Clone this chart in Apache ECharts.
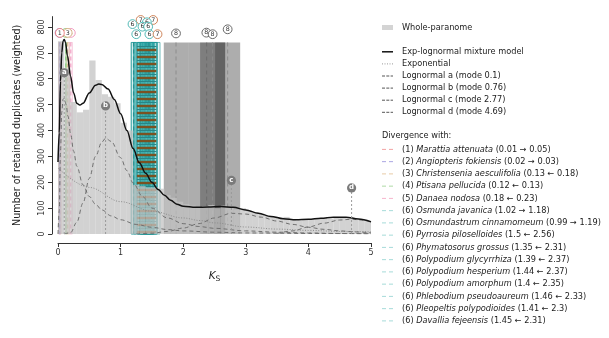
<!DOCTYPE html>
<html>
<head>
<meta charset="utf-8">
<script src="https://cdn.jsdelivr.net/npm/echarts@6/dist/echarts.min.js"></script>
<style>
  html, body { margin: 0; padding: 0; background: #fff; }
  #chart { width: 609px; height: 338px; }
</style>
</head>
<body>
<div id="chart"></div>
<script>
// ---------------- data ----------------
const ksTicks = [0, 1, 2, 3, 4, 5];
const countTicks = [0, 100, 200, 300, 400, 500, 600, 700, 800];

// whole-paranome Ks histogram, bins of 0.1 starting at 0
const binWidth = 0.1;
const paranomeCounts = [745, 640, 510, 470, 480, 670, 595, 540, 530, 505,
                        430, 400, 190, 185, 180, 180, 175, 150, 140, 125,
                        115, 110, 105, 108, 112, 100, 110, 104, 95, 100,
                        90, 84, 78, 70, 66, 60, 66, 55, 52, 56,
                        58, 60, 62, 58, 64, 62, 60, 56, 55, 52];

// exp-lognormal mixture model and its components
const mixtureKs = [0, 0.02, 0.04, 0.06, 0.08, 0.1, 0.12, 0.15, 0.2, 0.25, 0.3, 0.35, 0.4, 0.5, 0.6,
                   0.65, 0.7, 0.8, 0.9, 1.0, 1.1, 1.2, 1.3, 1.4, 1.5, 1.6, 1.7, 1.8, 1.9, 2.0,
                   2.2, 2.4, 2.6, 2.8, 3.0, 3.2, 3.4, 3.6, 3.8, 4.0, 4.2, 4.4, 4.6, 4.8, 5.0];
const mixtureVals = [278, 390, 590, 700, 745, 752, 740, 690, 610, 545, 505, 498, 505, 545, 575,
                     580, 578, 560, 520, 465, 400, 330, 275, 235, 200, 172, 150, 130, 115, 107,
                     103, 104, 106, 103, 93, 80, 68, 59, 55, 57, 61, 65, 65, 58, 47];

const expKs = [0, 0.5, 1, 1.5, 2, 2.27, 2.5, 3, 3.5, 4, 4.5, 5];
const expVals = [255, 180, 125, 88, 62, 52, 43, 27, 19, 14, 10, 8];

const lnAKs = [0, 0.02, 0.04, 0.06, 0.08, 0.1, 0.13, 0.16, 0.2, 0.25, 0.3, 0.4, 0.5, 0.6, 0.7,
               0.85, 1.0, 1.25, 1.5, 1.75, 2.0, 2.5, 3, 4, 5];
const lnAVals = [0, 90, 320, 470, 520, 525, 500, 455, 390, 320, 262, 190, 145, 115, 93,
                 70, 55, 37, 26, 17, 12, 7, 4, 2, 1];

const lnBKs = [0.1, 0.2, 0.3, 0.4, 0.5, 0.6, 0.7, 0.76, 0.85, 1.0, 1.1, 1.2, 1.35, 1.5, 1.75,
               2.0, 2.25, 2.5, 3, 3.5, 4, 4.5, 5];
const lnBVals = [0, 5, 45, 120, 215, 300, 355, 370, 358, 295, 245, 197, 145, 100, 62,
                 40, 29, 22, 12, 7, 4, 2, 1];

const lnCKs = [1.25, 1.5, 1.75, 2.0, 2.25, 2.5, 2.77, 3.0, 3.25, 3.5, 3.75, 4.0, 4.25, 4.5, 4.75, 5];
const lnCVals = [0, 3, 10, 23, 40, 62, 80, 77, 65, 50, 37, 26, 18, 12, 8, 5];

const lnDKs = [3.5, 3.75, 4.0, 4.25, 4.5, 4.69, 4.85, 5.0];
const lnDVals = [2, 12, 27, 42, 54, 57, 54, 47];

// component modes and the height of their tag
const modeNames = ['a', 'b', 'c', 'd'];
const modeKs = [0.1, 0.76, 2.77, 4.69];
const modeTagCounts = [623, 495, 207, 178];

// divergence legend entries
const divGroups = [1, 2, 3, 4, 5, 6, 6, 6, 6, 6, 6, 6, 6, 6, 6];
const divSpecies = ['Marattia attenuata', 'Angiopteris fokiensis', 'Christensenia aesculifolia',
  'Ptisana pellucida', 'Danaea nodosa', 'Osmunda javanica', 'Osmundastrum cinnamomeum',
  'Pyrrosia piloselloides', 'Phymatosorus grossus', 'Polypodium glycyrrhiza',
  'Polypodium hesperium', 'Polypodium amorphum', 'Phlebodium pseudoaureum',
  'Pleopeltis polypodioides', 'Davallia fejeensis'];
const divLeftKs = [0.01, 0.02, 0.13, 0.12, 0.18, 1.02, 0.99, 1.5, 1.35, 1.39, 1.44, 1.4, 1.46, 1.41, 1.45];
const divRightKs = [0.05, 0.03, 0.18, 0.13, 0.23, 1.18, 1.19, 2.56, 2.31, 2.37, 2.37, 2.35, 2.33, 2.3, 2.31];
const divArrows = ['→', '→', '←', '←', '←', '→', '→', '←', '←', '←', '←', '←', '←', '←', '←'];

// divergence ranges drawn as bands
const bandGroups = [1, 2, 3, 4, 5, 6, 6, 6, 6, 6, 6, 6, 6, 6, 6, 7, 8, 8, 8, 8];
const bandLo = [0.01, 0.02, 0.13, 0.12, 0.18, 1.17, 1.17, 1.38, 1.22, 1.26, 1.31, 1.27, 1.33, 1.28, 1.32,
                1.26, 1.69, 2.08, 2.27, 2.51];
const bandHi = [0.05, 0.03, 0.18, 0.13, 0.23, 1.24, 1.25, 1.63, 1.48, 1.52, 1.57, 1.53, 1.59, 1.54, 1.58,
                1.57, 2.08, 2.67, 2.67, 2.91];
const bandTop = 740;

// numbered tags above the bands
const tagGroups = [4, 2, 5, 3, 1, 7, 7, 6, 6, 6, 6, 6, 6, 7, 8, 8, 8, 8];
const tagKs = [0.125, 0.025, 0.205, 0.155, 0.03, 1.32, 1.52, 1.42, 1.19, 1.35, 1.44, 1.25, 1.46, 1.59,
               1.885, 2.37, 2.47, 2.71];
const tagCounts = [777, 777, 777, 777, 777, 827, 827, 818, 811, 801, 801, 772, 772, 772,
                   775, 778, 772, 791];

// ---------------- styling ----------------
const FONT = 'DejaVu Sans';
const groupColor = {
  1: '#e8787a', 2: '#8c84d6', 3: '#d6ab78', 4: '#84c47c', 5: '#ee8fb8',
  6: '#3fb1ae', 7: '#c9784a', 8: '#5a5a5a'
};
const legendDashColor = {
  1: '#f2a4a4', 2: '#aaa6e2', 3: '#e9cba6', 4: '#aedaa6', 5: '#f6b4cc', 6: '#a6dbd9'
};
const bandStyle = {
  1: { fill: 'rgba(240,110,110,0.12)', stroke: 'rgba(230,90,90,0.45)', center: 'rgba(230,90,90,0.8)' },
  2: { fill: 'rgba(120,110,210,0.12)', stroke: 'rgba(110,100,210,0.45)', center: 'rgba(110,100,210,0.8)' },
  3: { fill: 'rgba(215,170,110,0.12)', stroke: 'rgba(205,160,100,0.45)', center: 'rgba(205,160,100,0.8)' },
  4: { fill: 'rgba(130,200,120,0.12)', stroke: 'rgba(110,190,100,0.45)', center: 'rgba(110,190,100,0.8)' },
  5: { fill: 'rgba(240,140,180,0.10)', stroke: 'rgba(235,120,170,0.45)', center: 'rgba(235,120,170,0.8)' },
  6: { fill: 'rgba(70,185,185,0.10)', stroke: 'rgba(30,150,150,0.85)', center: 'rgba(30,140,140,0.8)',
       hatch: { dir: 'v', gap: 5, colors: ['rgba(35,160,160,0.7)'], widths: [1] } },
  7: { fill: 'rgba(0,0,0,0)', stroke: null, center: null,
       hatch: { dir: 'h', gap: 7, colors: ['#7a5222', '#2a8585'], widths: [2.4, 1.0] } },
  8: { fill: 'rgba(64,64,64,0.43)', stroke: null, center: '#8c8c8c' }
};

const zip = (xs, ys) => xs.map((x, i) => [x, ys[i]]);

// ---------------- renderers ----------------
function renderBand(params, api) {
  const i = params.dataIndex;
  const g = bandGroups[i];
  const st = bandStyle[g];
  const lo = api.value(0), hi = api.value(1), top = api.value(2);
  const p0 = api.coord([lo, top]);
  const p1 = api.coord([hi, 0]);
  const x = p0[0], y = p0[1], w = Math.max(p1[0] - p0[0], 1), h = p1[1] - p0[1];
  const children = [{
    type: 'rect', shape: { x, y, width: w, height: h },
    style: { fill: st.fill, stroke: st.stroke || null, lineWidth: 0.7 }
  }];
  if (st.hatch) {
    const hs = st.hatch;
    if (hs.dir === 'v') {
      for (let xx = x + hs.gap / 2; xx < x + w; xx += hs.gap) {
        children.push({ type: 'line', shape: { x1: xx, y1: y, x2: xx, y2: y + h },
          style: { stroke: hs.colors[0], lineWidth: hs.widths[0] } });
      }
    } else {
      let k = 0;
      const step = hs.gap / hs.colors.length;
      for (let yy = y + h - 2; yy > y + 1; yy -= step) {
        const c = k % hs.colors.length;
        children.push({ type: 'line', shape: { x1: x, y1: yy, x2: x + w, y2: yy },
          style: { stroke: hs.colors[c], lineWidth: hs.widths[c] } });
        k++;
      }
    }
  }
  if (st.center) {
    const cx = (p0[0] + p1[0]) / 2;
    children.push({ type: 'line', shape: { x1: cx, y1: y, x2: cx, y2: y + h },
      style: { stroke: st.center, lineWidth: 1, lineDash: [4, 3] } });
  }
  return { type: 'group', children };
}

function renderBin(params, api) {
  const p0 = api.coord([api.value(0), api.value(2)]);
  const p1 = api.coord([api.value(1), 0]);
  return { type: 'rect', shape: { x: p0[0], y: p0[1], width: p1[0] - p0[0], height: p1[1] - p0[1] },
    style: { fill: 'rgba(195,195,195,0.75)' } };
}

function renderMode(params, api) {
  const i = params.dataIndex;
  const base = api.coord([api.value(0), 0]);
  const c = api.coord([api.value(0), api.value(1)]);
  return { type: 'group', children: [
    { type: 'line', shape: { x1: base[0], y1: base[1], x2: c[0], y2: c[1] },
      style: { stroke: '#9a9a9a', lineWidth: 1, lineDash: [2, 2] } },
    { type: 'circle', shape: { cx: c[0], cy: c[1], r: 4.6 }, style: { fill: '#7b7b7b' } },
    { type: 'text', style: { x: c[0], y: c[1] - 0.3, text: modeNames[i], align: 'center', verticalAlign: 'middle',
      fontSize: 7, fontFamily: FONT, fontWeight: 'bold', fill: '#ffffff' } }
  ] };
}

function renderTag(params, api) {
  const i = params.dataIndex;
  const c = api.coord([api.value(0), api.value(1)]);
  return { type: 'group', children: [
    { type: 'circle', shape: { cx: c[0], cy: c[1], r: 4.4 },
      style: { fill: '#ffffff', stroke: groupColor[tagGroups[i]], lineWidth: 0.9 } },
    { type: 'text', style: { x: c[0], y: c[1], text: String(tagGroups[i]), align: 'center', verticalAlign: 'middle',
      fontSize: 6.3, fontFamily: FONT, fill: '#333333' } }
  ] };
}

// ---------------- legend (graphic) ----------------
const gfx = [];
const symX1 = 382, symX2 = 393, textX = 402;
function legendText(y, text, x) {
  gfx.push({ type: 'text', x: x === undefined ? textX : x, y,
    style: { text, fontFamily: FONT, fontSize: 8.2, fill: '#222', verticalAlign: 'middle',
      rich: { i: { fontStyle: 'italic', fontFamily: FONT, fontSize: 8.2, fill: '#222' } } } });
}
function legendLine(y, color, width, dash) {
  gfx.push({ type: 'line', shape: { x1: symX1, y1: y, x2: symX2, y2: y },
    style: { stroke: color, lineWidth: width, lineDash: dash || null } });
}
gfx.push({ type: 'rect', shape: { x: symX1, y: 25, width: 11, height: 5 }, style: { fill: '#d4d4d4' } });
legendText(27.5, 'Whole-paranome');

const modelLabels = ['Exp-lognormal mixture model', 'Exponential']
  .concat(modeNames.map((n, j) => `Lognormal ${n} (mode ${modeKs[j]})`));
modelLabels.forEach((lab, j) => {
  const y = 51.8 + 12.1 * j;
  if (j === 0) legendLine(y, '#111', 1.5);
  else if (j === 1) legendLine(y, '#9a9a9a', 1, [1, 1.5]);
  else legendLine(y, '#555', 1, [3, 1.3]);
  legendText(y, lab);
});

legendText(136, 'Divergence with:', symX1);
divSpecies.forEach((sp, j) => {
  const y = 149.4 + 12.25 * j;
  legendLine(y, legendDashColor[divGroups[j]], 1, [4, 3]);
  legendText(y, `(${divGroups[j]}) {i|${sp}} (${divLeftKs[j]} ${divArrows[j]} ${divRightKs[j]})`);
});

// ---------------- chart ----------------
const chart = echarts.init(document.getElementById('chart'));
const dashedComp = (name, ks, vals) => ({
  name, type: 'line', data: zip(ks, vals), smooth: 0.35, smoothMonotone: 'x', showSymbol: false,
  symbol: 'none', silent: true, z: 4,
  lineStyle: { color: '#707070', width: 1, type: [4, 3] }
});

chart.setOption({
  animation: false,
  backgroundColor: '#ffffff',
  grid: { left: 58, right: 238, top: 16.6, bottom: 104 },
  xAxis: {
    type: 'value', min: 0, max: 5, interval: 1, offset: 9,
    axisLine: { onZero: false, lineStyle: { color: '#333', width: 1 } },
    axisTick: { length: 4, lineStyle: { color: '#333' }, customValues: ksTicks },
    axisLabel: { fontFamily: FONT, fontSize: 8, color: '#333', margin: 6, customValues: ksTicks },
    splitLine: { show: false },
    name: '{k|K}{s|S}', nameLocation: 'middle', nameGap: 26,
    nameTextStyle: { rich: {
      k: { fontFamily: FONT, fontStyle: 'italic', fontSize: 10.5, color: '#222', lineHeight: 14, verticalAlign: 'middle' },
      s: { fontFamily: FONT, fontSize: 7.5, color: '#222', lineHeight: 14, verticalAlign: 'bottom' } } }
  },
  yAxis: {
    type: 'value', min: 0, max: 840, offset: 6,
    axisLine: { show: true, onZero: false, lineStyle: { color: '#333', width: 1 } },
    axisTick: { show: true, length: 4, lineStyle: { color: '#333' }, customValues: countTicks },
    axisLabel: { fontFamily: FONT, fontSize: 8, color: '#333', rotate: 90, margin: 6, customValues: countTicks },
    splitLine: { show: false },
    name: 'Number of retained duplicates (weighted)', nameLocation: 'middle', nameGap: 30,
    nameTextStyle: { fontFamily: FONT, fontSize: 9.6, color: '#222' }
  },
  graphic: gfx,
  series: [
    { type: 'custom', name: 'divergence', renderItem: renderBand, clip: false, silent: true, z: 1,
      encode: { x: [0, 1], y: 2 },
      data: bandLo.map((lo, i) => [lo, bandHi[i], bandTop]) },
    { type: 'custom', name: 'Whole-paranome', renderItem: renderBin, silent: true, z: 2,
      encode: { x: [0, 1], y: 2 },
      data: paranomeCounts.map((c, i) => [i * binWidth, (i + 1) * binWidth, c]) },
    { name: 'Exponential', type: 'line', data: zip(expKs, expVals), smooth: 0.35, smoothMonotone: 'x',
      showSymbol: false, symbol: 'none', silent: true, z: 4,
      lineStyle: { color: '#8c8c8c', width: 1, type: [1, 1.6] } },
    dashedComp('Lognormal a', lnAKs, lnAVals),
    dashedComp('Lognormal b', lnBKs, lnBVals),
    dashedComp('Lognormal c', lnCKs, lnCVals),
    dashedComp('Lognormal d', lnDKs, lnDVals),
    { name: 'Exp-lognormal mixture model', type: 'line', data: zip(mixtureKs, mixtureVals),
      smooth: 0.35, smoothMonotone: 'x', showSymbol: false, symbol: 'none', silent: true, z: 5,
      lineStyle: { color: '#111', width: 1.5 } },
    { type: 'custom', name: 'modes', renderItem: renderMode, clip: false, silent: true, z: 6,
      encode: { x: 0, y: 1 }, data: zip(modeKs, modeTagCounts) },
    { type: 'custom', name: 'tags', renderItem: renderTag, clip: false, silent: true, z: 7,
      encode: { x: 0, y: 1 }, data: zip(tagKs, tagCounts) }
  ]
});
</script>
</body>
</html>
